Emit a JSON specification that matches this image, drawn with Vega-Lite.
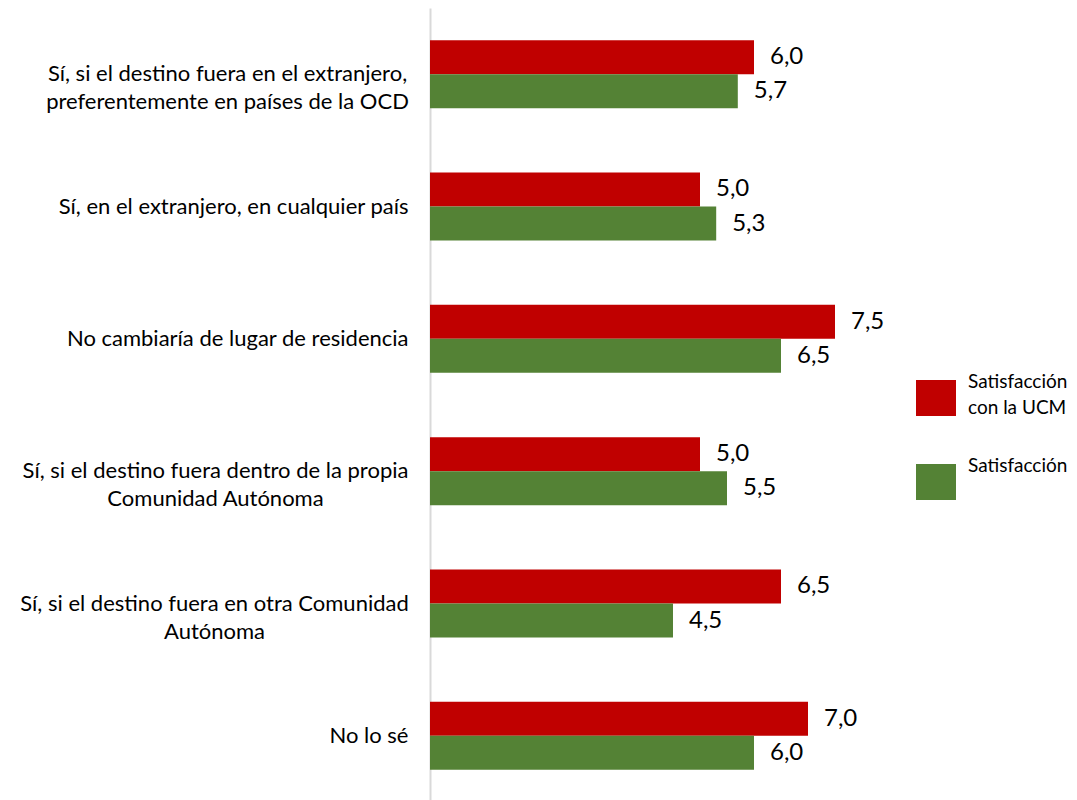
{
  "$schema": "https://vega.github.io/schema/vega-lite/v6.json",
  "autosize": "none",
  "padding": {"left": 430, "top": 8, "right": 161, "bottom": 0},
  "width": 486,
  "height": 794,
  "background": "white",
  "config": {"view": {"stroke": null}, "font": "Lato"},
  "data": {"values": [
    {"cat": "Sí, si el destino fuera en el extranjero,|preferentemente en países de la OCD", "serie": "Satisfacción|con la UCM", "value": 6.0},
    {"cat": "Sí, si el destino fuera en el extranjero,|preferentemente en países de la OCD", "serie": "Satisfacción", "value": 5.7},
    {"cat": "Sí, en el extranjero, en cualquier país", "serie": "Satisfacción|con la UCM", "value": 5.0},
    {"cat": "Sí, en el extranjero, en cualquier país", "serie": "Satisfacción", "value": 5.3},
    {"cat": "No cambiaría de lugar de residencia", "serie": "Satisfacción|con la UCM", "value": 7.5},
    {"cat": "No cambiaría de lugar de residencia", "serie": "Satisfacción", "value": 6.5},
    {"cat": "Sí, si el destino fuera dentro de la propia|Comunidad Autónoma", "serie": "Satisfacción|con la UCM", "value": 5.0},
    {"cat": "Sí, si el destino fuera dentro de la propia|Comunidad Autónoma", "serie": "Satisfacción", "value": 5.5},
    {"cat": "Sí, si el destino fuera en otra Comunidad|Autónoma", "serie": "Satisfacción|con la UCM", "value": 6.5},
    {"cat": "Sí, si el destino fuera en otra Comunidad|Autónoma", "serie": "Satisfacción", "value": 4.5},
    {"cat": "No lo sé", "serie": "Satisfacción|con la UCM", "value": 7.0},
    {"cat": "No lo sé", "serie": "Satisfacción", "value": 6.0}
  ]},
  "transform": [
    {"calculate": "replace(format(datum.value, '.1f'), '.', ',')", "as": "label"}
  ],
  "encoding": {
    "y": {
      "field": "cat", "type": "nominal", "sort": null, "title": null,
      "scale": {"paddingInner": 0.486, "paddingOuter": 0.243},
      "axis": {
        "domainColor": "#d9d9d9", "domainWidth": 2, "ticks": false,
        "labelExpr": "split(datum.value, '|')",
        "labelFontSize": 22, "labelColor": "#000000",
        "labelAlign": {"condition": {"test": "indexof(datum.value, '|') >= 0", "value": "center"}, "value": "right"},
        "labelPadding": {"condition": [
          {"test": "indexof(datum.value, 'OCD') >= 0", "value": 203},
          {"test": "indexof(datum.value, 'propia') >= 0", "value": 215},
          {"test": "indexof(datum.value, 'otra') >= 0", "value": 216}
        ], "value": 22},
        "labelLineHeight": 28, "labelLimit": 500
      }
    },
    "yOffset": {"field": "serie", "type": "nominal", "sort": ["Satisfacción|con la UCM", "Satisfacción"], "scale": {"paddingInner": 0, "paddingOuter": 0}},
    "x": {"field": "value", "type": "quantitative", "scale": {"domain": [0, 9]}, "axis": null}
  },
  "layer": [
    {
      "mark": {"type": "bar"},
      "encoding": {
        "color": {
          "field": "serie", "type": "nominal", "sort": ["Satisfacción|con la UCM", "Satisfacción"],
          "scale": {"domain": ["Satisfacción|con la UCM", "Satisfacción"], "range": ["#C00000", "#548235"]},
          "legend": {
            "title": null, "orient": "none", "legendX": 486, "legendY": 370,
            "symbolType": "M-1,-0.9H1V0.9H-1Z", "symbolSize": 1600, "symbolStrokeWidth": 0,
            "labelExpr": "split(datum.value, '|')", "labelFontSize": 19, "labelColor": "#000000",
            "labelOffset": 12, "rowPadding": 39, "labelLimit": 200,
            "encode": {"labels": {"update": {"dy": {"value": -16}, "lineHeight": {"value": 26}}}}
          }
        }
      }
    },
    {
      "mark": {"type": "text", "align": "left", "baseline": "middle", "dx": 16, "fontSize": 24, "color": "#000000"},
      "encoding": {"text": {"field": "label"}}
    }
  ]
}
